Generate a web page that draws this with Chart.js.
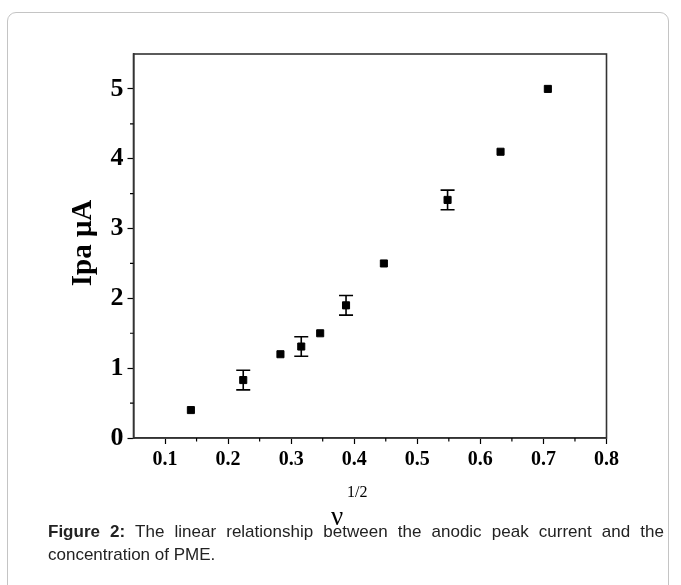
<!DOCTYPE html>
<html>
<head>
<meta charset="utf-8">
<script src="https://cdn.jsdelivr.net/npm/chart.js@4.4.1/dist/chart.umd.min.js"></script>
<style>
  html, body { margin: 0; padding: 0; background: #fff; }
  body { width: 681px; height: 585px; position: relative; overflow: hidden; }
  #card { position: absolute; left: 7px; top: 12px; width: 662px; height: 640px;
          border: 1px solid #c4c4c4; border-radius: 9px; box-sizing: border-box; }
  #wrap { position: absolute; left: 0; top: 0; width: 681px; height: 585px; }
  .xt { position: absolute; font-family: "Liberation Serif", "Times New Roman", serif; color: #000; line-height: 1; white-space: nowrap; }
  #nu { left: 331px; top: 503px; font-size: 27px; }
  #half { left: 347px; top: 484px; font-size: 16px; }
  #caption { position: absolute; left: 48px; top: 520px; width: 616px;
             font-family: "Liberation Sans", Arial, sans-serif; font-size: 17px; line-height: 23px;
             color: #222; text-align: justify; }
</style>
</head>
<body>
<div id="card"></div>
<div id="wrap"><canvas id="c" width="681" height="585"></canvas></div>
<span class="xt" id="nu">ν</span><span class="xt" id="half">1/2</span>
<div id="caption"><b>Figure 2:</b> The linear relationship between the anodic peak current and the concentration of PME.</div>
<script>
// ---- data ----
const sqrtScanRate = [0.141, 0.224, 0.283, 0.316, 0.346, 0.387, 0.447, 0.548, 0.632, 0.707];
const peakCurrent  = [0.40, 0.83, 1.20, 1.31, 1.50, 1.90, 2.50, 3.41, 4.10, 5.00];
const errorBar     = [null, 0.14, null, 0.14, null, 0.14, null, 0.14, null, null];
const xTickLabels  = ['0.1', '0.2', '0.3', '0.4', '0.5', '0.6', '0.7', '0.8'];
const yTickLabels  = ['0', '1', '2', '3', '4', '5'];
const yTitle = 'Ipa μA';

const points = sqrtScanRate.map((x, i) => ({ x: x, y: peakCurrent[i] }));

const isMajorX = v => Math.abs(v * 10 - Math.round(v * 10)) < 1e-6 && xTickLabels.indexOf(v.toFixed(1)) >= 0;
const isMajorY = v => Math.abs(v - Math.round(v)) < 1e-6 && yTickLabels.indexOf(String(Math.round(v))) >= 0;

const serif = '"Liberation Serif", "Times New Roman", serif';

const extras = {
  id: 'extras',
  afterDatasetsDraw(chart) {
    const ctx = chart.ctx, xs = chart.scales.x, ys = chart.scales.y;
    ctx.save();
    ctx.strokeStyle = '#000';
    ctx.lineWidth = 1.6;
    sqrtScanRate.forEach((xv, i) => {
      const e = errorBar[i];
      if (e == null) return;
      const px = xs.getPixelForValue(xv);
      const top = ys.getPixelForValue(peakCurrent[i] + e);
      const bot = ys.getPixelForValue(peakCurrent[i] - e);
      ctx.beginPath();
      ctx.moveTo(px, top); ctx.lineTo(px, bot);
      ctx.moveTo(px - 7, top); ctx.lineTo(px + 7, top);
      ctx.moveTo(px - 7, bot); ctx.lineTo(px + 7, bot);
      ctx.stroke();
    });
    ctx.restore();
  },
  afterDraw(chart) {
    const ctx = chart.ctx, a = chart.chartArea, xs = chart.scales.x, ys = chart.scales.y;
    ctx.save();
    // frame
    ctx.strokeStyle = '#333';
    ctx.lineWidth = 1.6;
    ctx.strokeRect(a.left, a.top, a.right - a.left, a.bottom - a.top);
    // minor ticks
    ctx.strokeStyle = '#000';
    ctx.lineWidth = 1.2;
    ctx.beginPath();
    xs.ticks.forEach(t => {
      if (!isMajorX(t.value) && t.value > xs.min + 1e-6 && t.value < xs.max - 1e-6) {
        const px = xs.getPixelForValue(t.value);
        ctx.moveTo(px, a.bottom); ctx.lineTo(px, a.bottom + 3.5);
      }
    });
    ys.ticks.forEach(t => {
      if (!isMajorY(t.value) && t.value < ys.max - 1e-6) {
        const py = ys.getPixelForValue(t.value);
        ctx.moveTo(a.left, py); ctx.lineTo(a.left - 3.5, py);
      }
    });
    ctx.stroke();
    // y title
    ctx.fillStyle = '#000';
    ctx.font = 'bold 29px ' + serif;
    ctx.textAlign = 'center';
    ctx.textBaseline = 'middle';
    ctx.translate(84, 243);
    ctx.rotate(-Math.PI / 2);
    ctx.fillText(yTitle, 0, 0);
    ctx.restore();
  }
};

new Chart(document.getElementById('c'), {
  type: 'scatter',
  data: {
    datasets: [{
      data: points,
      pointStyle: 'rect',
      pointRadius: 5,
      pointHoverRadius: 5,
      backgroundColor: '#000',
      borderColor: '#000',
      borderWidth: 1
    }]
  },
  options: {
    responsive: false,
    devicePixelRatio: 1,
    animation: false,
    events: [],
    layout: { padding: { left: 0, top: 54, right: 74.5, bottom: 107 } },
    plugins: { legend: { display: false }, tooltip: { enabled: false } },
    scales: {
      x: {
        type: 'linear',
        min: 0.05, max: 0.8,
        afterFit(s) { s.height = 40; },
        border: { display: true, color: '#333', width: 1.6 },
        grid: {
          drawOnChartArea: false, drawTicks: true, tickLength: 6,
          tickColor: ctx => isMajorX(ctx.tick.value) ? '#000' : 'rgba(0,0,0,0)',
          tickWidth: 1.2
        },
        ticks: {
          stepSize: 0.05,
          autoSkip: false,
          maxRotation: 0,
          padding: 4,
          color: '#000',
          font: { family: serif, size: 20, weight: 'bold' },
          callback: v => isMajorX(v) ? v.toFixed(1) : ''
        }
      },
      y: {
        type: 'linear',
        min: 0, max: 5.5,
        afterFit(s) { s.width = 133.5; },
        border: { display: true, color: '#333', width: 1.6 },
        grid: {
          drawOnChartArea: false, drawTicks: true, tickLength: 6,
          tickColor: ctx => isMajorY(ctx.tick.value) ? '#000' : 'rgba(0,0,0,0)',
          tickWidth: 1.2
        },
        ticks: {
          stepSize: 0.5,
          autoSkip: false,
          padding: 4,
          color: '#000',
          font: { family: serif, size: 26, weight: 'bold' },
          callback: v => isMajorY(v) ? String(Math.round(v)) : ''
        }
      }
    }
  },
  plugins: [extras]
});
</script>
</body>
</html>
